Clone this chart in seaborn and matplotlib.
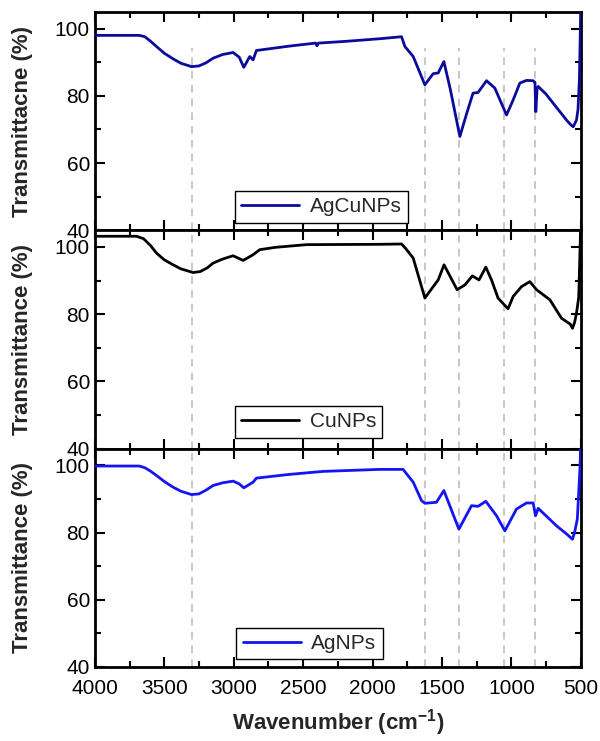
import numpy as np
import pandas as pd
import matplotlib
matplotlib.use("Agg")
import matplotlib.pyplot as plt
from matplotlib.ticker import MultipleLocator
import seaborn as sns

# ------------------------------------------------------------
# FTIR spectra
# ------------------------------------------------------------
wn_agcu = [4000, 3680, 3640, 3600, 3556, 3500, 3436, 3380, 3304, 3250, 3200, 3148,
           3080, 3004, 2960, 2927, 2884, 2860, 2836, 2600, 2410, 2400, 2390, 2200,
           1947, 1791, 1767, 1707, 1623, 1563, 1527, 1486, 1440, 1371, 1320, 1276,
           1240, 1179, 1119, 1035, 987, 939, 891, 843, 830, 824, 815, 807, 750, 699,
           603, 575, 555, 540, 531, 520, 510, 503, 500]
t_agcu = [98.0, 98.0, 97.6, 96.3, 94.7, 92.7, 91.0, 89.7, 88.7, 88.9, 89.8, 91.2,
          92.3, 92.9, 91.5, 88.5, 91.7, 90.7, 93.5, 94.8, 95.7, 94.9, 95.7, 96.2,
          97.0, 97.6, 94.7, 91.7, 83.3, 86.6, 86.8, 90.2, 82.0, 67.9, 75.0, 80.8,
          81.0, 84.5, 82.3, 74.3, 78.8, 83.8, 84.6, 84.5, 84.0, 75.3, 82.0, 82.8,
          80.5, 77.8, 72.8, 71.5, 70.8, 72.0, 72.8, 76.0, 85.0, 100.0, 108.0]

wn_cu = [4000, 3700, 3650, 3600, 3556, 3500, 3436, 3380, 3292, 3240, 3190, 3148,
         3080, 3004, 2932, 2860, 2812, 2700, 2476, 1947, 1791, 1760, 1707, 1623,
         1563, 1527, 1485, 1391, 1335, 1281, 1233, 1184, 1143, 1096, 1024, 987,
         927, 867, 819, 723, 639, 575, 560, 545, 531, 515, 505, 500]
t_cu = [103.2, 103.2, 102.5, 100.5, 98.2, 96.2, 94.7, 93.5, 92.4, 92.7, 93.8, 95.2,
        96.4, 97.4, 96.0, 97.7, 99.2, 99.9, 100.7, 100.8, 100.9, 99.5, 96.7, 84.8,
        88.2, 90.2, 94.7, 87.3, 88.7, 91.4, 90.2, 94.0, 90.2, 84.8, 81.6, 85.3,
        88.2, 89.7, 87.3, 84.3, 78.8, 77.0, 75.8, 77.5, 80.3, 85.0, 100.0, 108.0]

wn_ag = [4000, 3680, 3640, 3600, 3556, 3500, 3436, 3380, 3304, 3250, 3200, 3148,
         3080, 3004, 2960, 2927, 2860, 2836, 2600, 2356, 1947, 1780, 1707, 1647,
         1623, 1540, 1486, 1378, 1287, 1240, 1184, 1107, 1047, 963, 891, 843, 826,
         807, 771, 675, 600, 560, 545, 525, 515, 505, 500]
t_ag = [99.8, 99.8, 99.3, 98.3, 97.0, 95.2, 93.5, 92.3, 91.3, 91.5, 92.6, 94.0,
        94.8, 95.3, 94.5, 93.3, 95.0, 96.2, 97.3, 98.2, 98.8, 98.8, 95.0, 89.5,
        88.7, 89.0, 92.5, 81.0, 88.0, 87.8, 89.3, 85.0, 80.5, 87.0, 88.8, 88.8,
        85.0, 87.2, 85.8, 82.0, 79.5, 78.0, 80.0, 84.0, 92.0, 100.0, 108.0]

panels = [
    ("AgCuNPs", wn_agcu, t_agcu, "#0a0a9c", "Transmittacne (%)"),
    ("CuNPs", wn_cu, t_cu, "#000000", "Transmittance (%)"),
    ("AgNPs", wn_ag, t_ag, "#1414f5", "Transmittance (%)"),
]

# band positions marked with dashed guides
band_wn = [3300, 1625, 1380, 1050, 830]

legend_x = [0.466, 0.44, 0.442]
legend_y = [0.035, 0.05, 0.035]

sns.set_style("ticks")
plt.rcParams["font.family"] = ["Liberation Sans", "DejaVu Sans"]
plt.rcParams["mathtext.fontset"] = "custom"
plt.rcParams["mathtext.rm"] = "Liberation Sans:bold"
plt.rcParams["mathtext.bf"] = "Liberation Sans:bold"

fig, axes = plt.subplots(3, 1, figsize=(6.0, 7.41), dpi=100, sharex=True)
fig.subplots_adjust(left=0.158, right=0.968, top=0.984, bottom=0.10, hspace=0)

for i, (ax, (name, wn, tr, col, ylab)) in enumerate(zip(axes, panels)):
    df = pd.DataFrame({"wn": wn, "T": tr})
    top_frac = 0.835 if i == 0 else 1.0
    for b in band_wn:
        ax.axvline(b, ymin=0, ymax=top_frac, color="#b8b8b8", lw=1.1,
                   linestyle=(0, (5, 4)), zorder=1)
    sns.lineplot(data=df, x="wn", y="T", ax=ax, color=col, lw=2.0,
                 label=name, sort=False, zorder=3)

    ax.set_xlim(4000, 500)
    ax.set_ylim(40, 105)
    ax.yaxis.set_major_locator(MultipleLocator(20))
    ax.yaxis.set_minor_locator(MultipleLocator(10))
    ax.xaxis.set_major_locator(MultipleLocator(500))
    ax.xaxis.set_minor_locator(MultipleLocator(250))
    ax.tick_params(which="both", direction="in", top=True, right=True,
                   width=1.5, labelsize=15, colors="black")
    ax.tick_params(which="major", length=7)
    ax.tick_params(which="minor", length=4.5)
    ax.tick_params(axis="x", which="major", pad=9)
    for sp in ax.spines.values():
        sp.set_linewidth(2)
        sp.set_color("black")

    ax.set_ylabel(ylab, fontsize=16, fontweight="bold")
    ax.yaxis.set_label_coords(-0.128, 0.5)
    ax.set_xlabel("")

    leg = ax.legend(loc="lower center", bbox_to_anchor=(legend_x[i], legend_y[i]),
                    fontsize=15, handlelength=2.8, fancybox=False, framealpha=1,
                    borderaxespad=0, borderpad=0.3, handletextpad=0.5)
    leg.get_frame().set_edgecolor("black")
    leg.get_frame().set_linewidth(1)

axes[-1].set_xlabel(r"Wavenumber (cm$^{\mathbf{-1}}$)", fontsize=16,
                    fontweight="bold", labelpad=6)

fig.savefig("out.png", dpi=100)
